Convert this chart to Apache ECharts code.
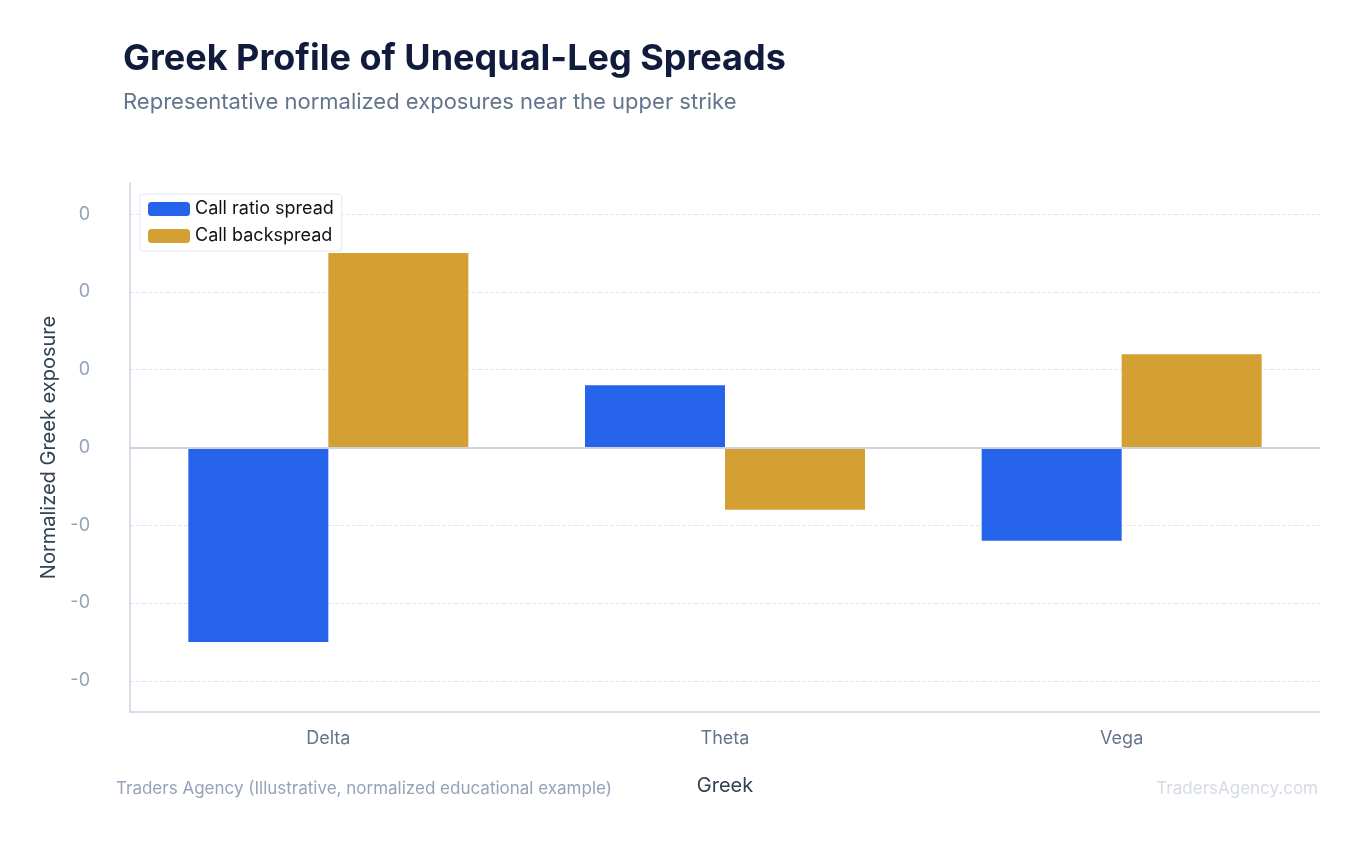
<!DOCTYPE html>
<html><head><meta charset="utf-8">
<script src="https://cdn.jsdelivr.net/npm/echarts@6/dist/echarts.min.js"></script>
<style>html,body{margin:0;background:#fff}#c{width:1364px;height:845px}</style>
</head><body><div id="c"></div>
<script>
const greeks = ['Delta', 'Theta', 'Vega'];
const ratioSpread = [-0.25, 0.08, -0.12];
const backSpread = [0.25, -0.08, 0.12];
const yTicks = [-0.3, -0.2, -0.1, 0, 0.1, 0.2, 0.3];

let chart = echarts.init(document.getElementById('c'));
const font = 'Inter, "Noto Sans", sans-serif';
chart.setOption({
    textStyle: {fontFamily: font},
    title: {
        text: 'Greek Profile of Unequal-Leg Spreads',
        subtext: 'Representative normalized exposures near the upper strike',
        left: 118, top: 36,
        textStyle: {fontSize: 36, fontWeight: 'bold', color: '#111c3d', fontFamily: font},
        subtextStyle: {fontSize: 22, color: '#64748b', fontFamily: font},
        itemGap: 14
    },
    legend: {
        left: 140, top: 194, orient: 'vertical',
        backgroundColor: '#fff', borderColor: '#e2e8f0', borderWidth: 1, borderRadius: 3,
        padding: [6, 8], itemWidth: 42, itemHeight: 14, itemGap: 9,
        textStyle: {fontSize: 18, color: '#111'},
        data: ['Call ratio spread', 'Call backspread']
    },
    grid: {left: 130, right: 44, top: 183, bottom: 133},
    xAxis: {
        type: 'category', data: greeks,
        axisLine: {onZero: false, lineStyle: {color: '#cbd5e1', width: 1.5}},
        axisTick: {show: false},
        axisLabel: {fontSize: 18, color: '#64748b', margin: 18},
        name: 'Greek', nameLocation: 'middle', nameGap: 64,
        nameTextStyle: {fontSize: 20, color: '#334155'}
    },
    yAxis: {
        type: 'value', min: -0.34, max: 0.34,
        axisLine: {show: true, lineStyle: {color: '#cbd5e1', width: 1.5}},
        axisTick: {show: false, customValues: yTicks},
        axisLabel: {customValues: yTicks, fontSize: 18, color: '#94a3b8', margin: 40,
            formatter: v => v.toFixed(0)},
        splitLine: {show: true, lineStyle: {color: '#e2e8f0', type: 'dashed'}},
        name: 'Normalized Greek exposure', nameLocation: 'middle', nameGap: 64,
        nameTextStyle: {fontSize: 20, color: '#334155'}
    },
    series: [
        {name: 'Call ratio spread', type: 'bar', data: ratioSpread, barWidth: 140, barGap: '0%',
            itemStyle: {color: '#2563eb'},
            markLine: {silent: true, symbol: 'none', label: {show: false},
                lineStyle: {color: '#cbd5e1', type: 'solid', width: 2}, data: [{yAxis: 0}]}},
        {name: 'Call backspread', type: 'bar', data: backSpread, barWidth: 140,
            itemStyle: {color: '#d4a033'}}
    ],
    graphic: [
        {type: 'text', left: 116, top: 780, style: {text: 'Traders Agency (Illustrative, normalized educational example)', fontSize: 17, fill: '#94a3b8', fontFamily: font}},
        {type: 'text', right: 46, top: 780, style: {text: 'TradersAgency.com', fontSize: 17, fill: '#d5dbe3', fontFamily: font}}
    ]
});
</script></body></html>
